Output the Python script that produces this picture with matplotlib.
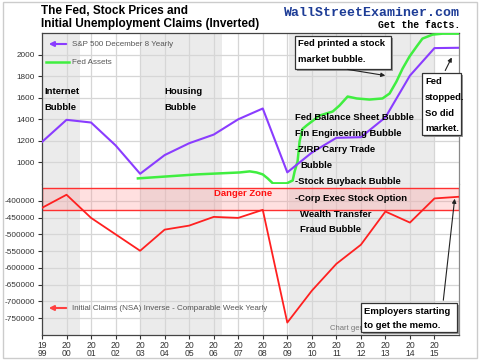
import matplotlib
matplotlib.use("Agg")
import matplotlib.pyplot as plt
from matplotlib.patches import Rectangle

plt.rcParams["font.family"] = ["Liberation Sans", "DejaVu Sans"]

# yearly points (Dec 8 of each year), plotted at the year ticks
years = [1999, 2000, 2001, 2002, 2003, 2004, 2005, 2006, 2007, 2008,
         2009, 2010, 2011, 2012, 2013, 2014, 2015, 2016]
sp500 = [1190, 1395, 1370, 1158, 895, 1068, 1178, 1258, 1400, 1500,
         908, 1091, 1228, 1234, 1418, 1805, 2060, 2063]
claims = [-421000, -382000, -451000, -500000, -549000, -486000, -474000, -448000, -451000, -427000,
          -763000, -668000, -588000, -531000, -432000, -465000, -393000, -388000]

# Fed assets (scaled)
fed_x = [2002.91, 2005.31, 2007.06, 2007.47, 2007.75, 2008.0, 2008.2, 2008.41, 2008.98, 2009.22,
         2009.3, 2009.42, 2009.5, 2009.62, 2009.79, 2010.32, 2010.85, 2011.13, 2011.46, 2011.83,
         2012.35, 2012.88, 2013.17, 2013.45, 2013.7, 2013.98, 2014.27, 2014.51, 2014.92, 2015.33, 2016.0]
fed_y = [852, 889, 907, 917, 907, 889, 852, 806, 806, 833,
         917, 1010, 1194, 1310, 1343, 1435, 1472, 1528, 1611, 1593,
         1583, 1593, 1639, 1750, 1870, 1981, 2074, 2148, 2185, 2194, 2194]

shade_spans = [(1999.0, 2000.55), (2003.05, 2006.35), (2009.05, 2015.0)]
danger_zone = (-427000, -362000)

top_ticks = [1000, 1200, 1400, 1600, 1800, 2000]
bot_ticks = [-400000, -450000, -500000, -550000, -600000, -650000, -700000, -750000]

W, H = 480, 362
fig = plt.figure(figsize=(4.8, 3.62), dpi=100)


def px(x, y):
    return x / W, 1 - y / H


comic = "Liberation Sans"
purple = "#8a3cff"
green = "#40ee40"
red = "#ff2020"
gridc = "#d6d6d6"
shade = "#ebebeb"

left, right = 42 / W, 459 / W
ax1 = fig.add_axes([left, 1 - 184 / H, right - left, (184 - 33) / H])
ax2 = fig.add_axes([left, 1 - 335 / H, right - left, (335 - 184) / H], sharex=ax1)

for ax in (ax1, ax2):
    for a, b in shade_spans:
        ax.axvspan(a, b, color=shade, lw=0, zorder=0)
    ax.set_xticks(years[:-1])
    ax.grid(True, color=gridc, lw=0.9, zorder=0.5)
    ax.set_axisbelow(True)
    ax.tick_params(colors="#333333", labelsize=6.2, length=3, width=0.8)
    ax.tick_params(axis="y", labelsize=5.9, pad=2)
    for s in ax.spines.values():
        s.set_color("#444444")
        s.set_linewidth(0.9)
    ax.spines["right"].set_color("#888888")

ax1.set_xlim(1999, 2016)
ax1.set_ylim(800, 2200)
ax1.set_yticks(top_ticks)
ax1.set_yticklabels([str(t) for t in top_ticks])
ax1.spines["bottom"].set_visible(False)
ax1.tick_params(axis="x", bottom=False, labelbottom=False)

ax2.set_ylim(-800000, -350000)
ax2.set_yticks(bot_ticks)
ax2.set_yticklabels([str(t) for t in bot_ticks])
ax2.spines["top"].set_visible(False)
ax2.set_xticklabels([str(y)[:2] + "\n" + str(y)[2:] for y in years[:-1]], linespacing=0.85)
ax2.tick_params(axis="x", pad=1.5)
# horizontal line at the panel boundary
ax1.axhline(800, color=gridc, lw=0.9, zorder=0.5)

ax1.plot(fed_x, fed_y, color=green, lw=1.8, zorder=3)
ax1.plot(years, sp500, color=purple, lw=1.5, zorder=4)
ax2.plot(years, claims, color=red, lw=1.3, zorder=4)

ax2.axhspan(danger_zone[0], danger_zone[1], facecolor="#ff9999", alpha=0.3, edgecolor="none", zorder=2)
ax2.axhspan(danger_zone[0], danger_zone[1], facecolor="none", edgecolor="#ff3030", lw=1.0, zorder=2.5)
ax2.text(2006.0, -378000, "Danger Zone", color="#ff1010", fontsize=6.8, fontweight="bold",
         family=comic, va="center", ha="left", zorder=5)


# legend entries
def legend_arrow(y, color):
    fig.patches.append(matplotlib.patches.FancyArrowPatch(
        px(69, y), px(46, y), transform=fig.transFigure, arrowstyle="-|>",
        mutation_scale=7, color=color, lw=1.5))


legend_arrow(44, purple)
fig.text(*px(72, 44), "S&P 500 December 8 Yearly", fontsize=5.8, color="#555555", va="center")
fig.add_artist(plt.Line2D([46 / W, 69 / W], [1 - 62 / H, 1 - 62 / H], color=green, lw=1.8))
fig.text(*px(72, 62), "Fed Assets", fontsize=5.8, color="#555555", va="center")
legend_arrow(308, "#ff4040")
fig.text(*px(72, 308), "Initial Claims (NSA) Inverse - Comparable Week Yearly", fontsize=5.8,
         color="#555555", va="center")
fig.text(*px(330, 328), "Chart gen", fontsize=5.5, color="#777777", va="center", zorder=1)

# titles
fig.text(*px(41, 11), "The Fed, Stock Prices and", fontsize=8.5, fontweight="bold", va="center")
fig.text(*px(41, 24.5), "Initial Unemployment Claims (Inverted)", fontsize=8.5, fontweight="bold",
         va="center")
fig.text(*px(460, 12.5), "WallStreetExaminer.com", fontsize=9.5, fontweight="bold",
         color="#1d3c96", ha="right", va="center", family="Liberation Mono")
fig.text(*px(460, 25), "Get the facts.", fontsize=7, fontweight="bold",
         ha="right", va="center", family="Liberation Mono")


# annotations
def note(x, y, s):
    fig.text(*px(x, y), s, fontsize=6.8, fontweight="bold", family=comic, va="center", zorder=6)


note(44, 91, "Internet")
note(44, 107, "Bubble")
note(164, 92, "Housing")
note(164, 108, "Bubble")

block = [(295, 117, "Fed Balance Sheet Bubble"), (295, 133, "Fin Engineering Bubble"),
         (295, 149, "-ZIRP Carry Trade"), (300, 165, "Bubble"),
         (295, 181, "-Stock Buyback Bubble"), (295, 198, "-Corp Exec Stock Option"),
         (300, 214, "Wealth Transfer"), (300, 229, "Fraud Bubble")]
for x, y, s in block:
    note(x, y, s)


def boxed(x0, y0, x1, y1, lines, yl):
    sh = Rectangle(px(x0 + 2, y1 + 2), (x1 - x0) / W, (y1 - y0) / H, transform=fig.transFigure,
                   facecolor="#999999", edgecolor="none", zorder=7)
    bx = Rectangle(px(x0, y1), (x1 - x0) / W, (y1 - y0) / H, transform=fig.transFigure,
                   facecolor="white", edgecolor="#333333", lw=0.9, zorder=8)
    fig.add_artist(sh)
    fig.add_artist(bx)
    for s, y in zip(lines, yl):
        fig.text(*px(x0 + 3, y), s, fontsize=6.8, fontweight="bold", family=comic,
                 va="center", zorder=9)


boxed(295, 36, 391, 69, ["Fed printed a stock", "market bubble."], [44, 60])
boxed(422, 73, 461, 135, ["Fed", "stopped.", "So did", "market."], [81, 97, 113, 129])
boxed(361, 303, 457, 332, ["Employers starting", "to get the memo."], [311, 325])


def arrow(p0, p1):
    fig.patches.append(matplotlib.patches.FancyArrowPatch(
        px(*p0), px(*p1), transform=fig.transFigure, arrowstyle="-|>",
        mutation_scale=6, color="#222222", lw=0.8, zorder=10))


arrow((345, 69), (388, 76))
arrow((444, 73), (453, 55))
arrow((443, 303), (455, 196))

# outer frame
fig.add_artist(Rectangle((3 / W, 1 - 358 / H), 474 / W, 356 / H, transform=fig.transFigure,
                         facecolor="none", edgecolor="#cccccc", lw=1.0))

fig.savefig("out.png", dpi=100)
